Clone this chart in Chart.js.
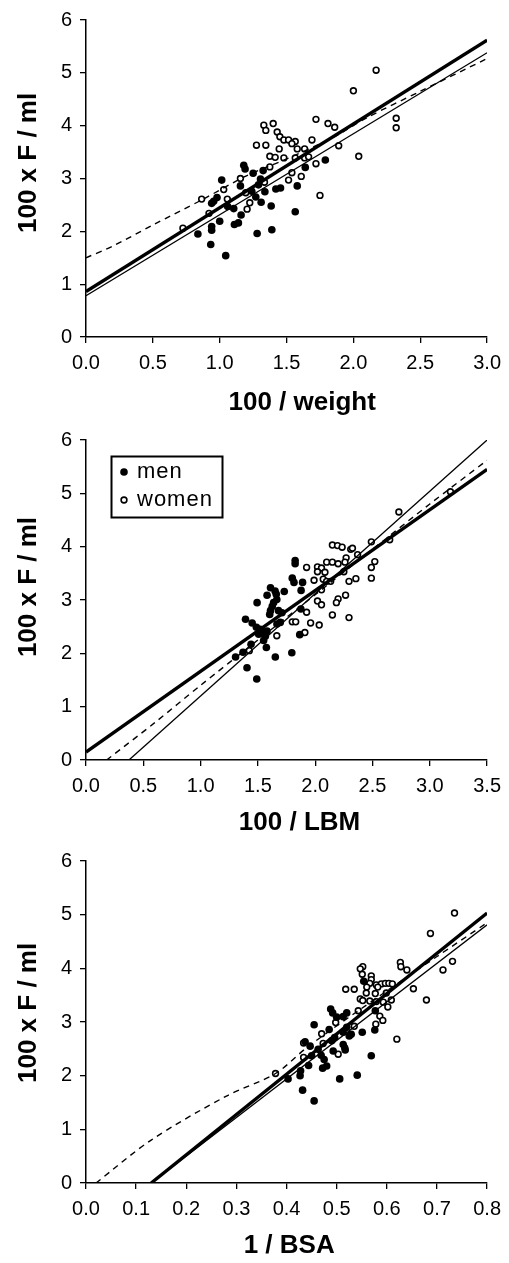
<!DOCTYPE html>
<html>
<head>
<meta charset="utf-8">
<script src="https://cdn.jsdelivr.net/npm/chart.js@4.4.0/dist/chart.umd.min.js"></script>
<style>
  html, body { margin: 0; padding: 0; background: #fff; }
  canvas { display: block; }
</style>
</head>
<body>
<canvas id="chartWeight" width="509" height="420"></canvas>
<canvas id="chartLbm" width="509" height="420"></canvas>
<canvas id="chartBsa" width="509" height="423"></canvas>
<script>
// y values are 100 x F / ml, x values as on each axis
var menWeight = [[1.64,3.21],[1.79,3.35],[1.58,2.86],[1.565,2.37],[1.455,2.82],[1.42,2.80],[1.385,2.48],[1.39,2.03],
  [1.28,1.96],[1.338,2.75],[1.325,3.15],[1.25,3.10],[1.18,3.25],[1.19,3.18],[1.31,2.55],[1.27,2.65],[1.29,2.88],
  [1.305,2.99],[1.015,2.97],[1.155,2.86],[0.98,2.64],[0.955,2.57],[0.94,2.53],[1.105,2.43],[1.16,2.31],[1.14,2.16],
  [1.11,2.13],[1.0,2.19],[0.94,2.09],[0.94,2.02],[0.837,1.95],[0.933,1.75],[1.045,1.54],[1.06,2.47],[1.24,2.76]];
var womenWeight = [[2.17,5.05],[2.0,4.66],[2.32,4.14],[2.32,3.96],[2.04,3.42],[1.72,4.12],[1.81,4.04],[1.86,3.97],
  [1.89,3.62],[1.33,4.01],[1.40,4.04],[1.345,3.91],[1.43,3.88],[1.45,3.79],[1.48,3.73],[1.515,3.73],[1.565,3.70],
  [1.54,3.66],[1.275,3.63],[1.345,3.63],[1.445,3.56],[1.58,3.56],[1.635,3.56],[1.69,3.73],[1.375,3.42],[1.415,3.40],
  [1.48,3.39],[1.565,3.39],[1.635,3.39],[1.665,3.41],[1.72,3.28],[1.375,3.22],[1.61,3.04],[1.54,3.11],[1.515,2.97],
  [1.75,2.68],[1.335,2.93],[1.155,3.0],[1.195,2.73],[1.03,2.79],[1.057,2.61],[0.865,2.61],[0.92,2.34],[0.725,2.06],
  [1.205,2.42],[1.225,2.54]];
var menLbm = [[1.825,3.74],[1.825,3.68],[1.80,3.41],[1.815,3.33],[1.89,3.33],[1.877,3.18],[1.73,3.16],[1.61,3.23],
  [1.58,3.09],[1.65,3.17],[1.66,3.11],[1.665,3.01],[1.637,2.95],[1.61,2.80],[1.603,2.73],[1.68,2.80],[1.71,2.76],
  [1.493,2.95],[1.392,2.64],[1.45,2.57],[1.487,2.49],[1.52,2.45],[1.58,2.42],[1.666,2.55],[1.695,2.58],[1.507,2.36],
  [1.565,2.32],[1.55,2.24],[1.44,2.17],[1.37,2.02],[1.305,1.93],[1.574,2.11],[1.652,1.93],[1.796,2.01],[1.405,1.73],
  [1.49,1.52],[1.865,2.35],[1.875,2.83],[1.625,2.88],[1.55,2.40]];
var womenLbm = [[3.18,5.03],[2.73,4.65],[2.65,4.13],[2.49,4.09],[2.52,3.72],[2.49,3.61],[2.49,3.41],[2.37,3.85],
  [2.15,4.03],[2.195,4.02],[2.235,3.99],[2.31,3.95],[2.325,3.97],[2.27,3.79],[2.26,3.71],[2.10,3.71],[2.15,3.71],
  [2.20,3.68],[2.02,3.62],[2.055,3.60],[1.925,3.61],[2.02,3.53],[2.085,3.52],[2.25,3.53],[1.99,3.37],[2.07,3.39],
  [2.10,3.35],[2.135,3.35],[2.295,3.35],[2.355,3.40],[2.055,3.19],[2.02,2.98],[2.055,2.91],[2.20,3.02],[2.185,2.95],
  [2.265,3.09],[2.15,2.72],[2.295,2.67],[1.925,2.77],[1.96,2.57],[2.035,2.53],[1.80,2.59],[1.83,2.59],[1.91,2.39],
  [1.665,2.33],[1.425,2.05]];
var menBsa = [[0.455,1.53],[0.432,1.73],[0.506,1.94],[0.541,2.01],[0.569,2.37],[0.576,2.85],[0.551,2.81],[0.488,3.24],
  [0.492,3.17],[0.50,3.09],[0.52,3.17],[0.513,3.10],[0.554,3.76],[0.577,3.21],[0.455,2.95],[0.485,2.86],[0.513,2.81],
  [0.529,2.77],[0.496,2.71],[0.49,2.65],[0.513,2.58],[0.517,2.48],[0.437,2.63],[0.447,2.55],[0.463,2.49],[0.493,2.46],
  [0.469,2.38],[0.475,2.30],[0.48,2.18],[0.472,2.14],[0.444,2.19],[0.428,2.09],[0.427,2.0],[0.403,1.94],[0.45,2.37],
  [0.525,2.74],[0.52,2.9]];
var womenBsa = [[0.735,5.03],[0.687,4.65],[0.731,4.13],[0.712,3.97],[0.679,3.41],[0.653,3.62],[0.627,4.11],[0.628,4.03],
  [0.64,3.97],[0.62,2.68],[0.552,4.03],[0.547,3.99],[0.551,3.89],[0.569,3.86],[0.569,3.79],[0.566,3.72],[0.56,3.65],
  [0.579,3.69],[0.589,3.71],[0.597,3.72],[0.604,3.72],[0.611,3.71],[0.518,3.61],[0.535,3.61],[0.582,3.65],[0.577,3.53],
  [0.559,3.54],[0.547,3.43],[0.552,3.40],[0.566,3.39],[0.579,3.38],[0.593,3.37],[0.599,3.54],[0.609,3.41],[0.602,3.28],
  [0.543,3.21],[0.586,3.11],[0.592,3.03],[0.578,2.96],[0.535,2.92],[0.47,2.78],[0.434,2.61],[0.473,2.60],[0.503,2.40],
  [0.516,2.52],[0.434,2.34],[0.378,2.04],[0.498,2.99]];

// fitted lines: thick, thin and dashed curve
var thickWeight = [[0,0.86],[3.0,5.62]];
var thinWeight = [[0,0.78],[3.0,5.38]];
var dashWeight = [[0,1.5],[0.2,1.72],[0.5,2.12],[0.87,2.6],[1.2,3.05],[1.5,3.37],[1.85,3.78],[2.1,4.15],[2.5,4.65],[3.0,5.27]];
var thickLbm = [[0,0.15],[3.5,5.45]];
var thinLbm = [[0.375,0],[3.5,6.0]];
var dashLbm = [[0.18,0],[0.6,0.7],[1.0,1.4],[1.5,2.25],[2.0,3.1],[2.5,3.95],[3.0,4.8],[3.5,5.62]];
var thickBsa = [[0.13,0],[0.8,5.03]];
var thinBsa = [[0.13,0],[0.8,4.81]];
var dashBsa = [[0.02,0],[0.13,0.8],[0.28,1.62],[0.378,2.04],[0.444,2.55],[0.6,3.58],[0.7,4.22],[0.8,4.85]];

var legendLabels = ['men', 'women'];
var yTitle = '100 x F / ml';
var FONT = '"Liberation Sans", Arial, sans-serif';

function pts(arr) {
  return arr.map(function (p) { return { x: p[0], y: p[1] }; });
}

var boxLegend = {
  id: 'boxLegend',
  afterDraw: function (chart, args, opts) {
    if (!opts.show) return;
    var ctx = chart.ctx;
    ctx.save();
    ctx.strokeStyle = '#000';
    ctx.lineWidth = 2;
    ctx.strokeRect(111.5, 36.5, 111, 61);
    ctx.fillStyle = '#000';
    ctx.beginPath();
    ctx.arc(124, 52, 3.8, 0, Math.PI * 2);
    ctx.fill();
    ctx.fillStyle = '#fff';
    ctx.lineWidth = 1.6;
    ctx.beginPath();
    ctx.arc(124, 80, 2.9, 0, Math.PI * 2);
    ctx.fill();
    ctx.stroke();
    ctx.fillStyle = '#000';
    ctx.font = '22px ' + FONT;
    ctx.textBaseline = 'middle';
    ctx.letterSpacing = '1px';
    ctx.fillText(legendLabels[0], 137, 52);
    ctx.fillText(legendLabels[1], 137, 80);
    ctx.restore();
  }
};

function makeChart(id, c) {
  new Chart(document.getElementById(id), {
    type: 'scatter',
    data: {
      datasets: [
        { label: 'thick', data: pts(c.thick), showLine: true, pointRadius: 0, borderColor: '#000', borderWidth: 3.4 },
        { label: 'thin', data: pts(c.thin), showLine: true, pointRadius: 0, borderColor: '#000', borderWidth: 1.3 },
        { label: 'dash', data: pts(c.dash), showLine: true, pointRadius: 0, borderColor: '#000', borderWidth: 1.4,
          borderDash: [6, 5], tension: 0.3 },
        { label: legendLabels[0], data: pts(c.men), pointRadius: 3.8, backgroundColor: '#000', borderWidth: 0 },
        { label: legendLabels[1], data: pts(c.women), pointRadius: 2.9, backgroundColor: '#fff',
          borderColor: '#000', borderWidth: 1.6 }
      ]
    },
    options: {
      responsive: false,
      animation: false,
      layout: { padding: { top: c.top, right: 19, left: 0, bottom: 0 } },
      plugins: { legend: { display: false }, tooltip: { enabled: false }, boxLegend: { show: c.legend } },
      scales: {
        x: {
          type: 'linear', min: 0, max: c.xMax,
          ticks: { stepSize: c.xStep, color: '#000', font: { family: FONT, size: 20 }, padding: 8,
            maxRotation: 0, autoSkip: false, callback: function (v) { return v.toFixed(1); } },
          grid: { drawOnChartArea: false, drawTicks: true, tickLength: 6, color: '#000', lineWidth: 1.3 },
          border: { color: '#000', width: 1.5 },
          // leading spaces nudge the centred title to where the original sits
          title: { display: true, text: c.xPad + c.xTitle, color: '#000', font: { family: FONT, size: 26, weight: 'bold' },
            padding: { top: 0, bottom: 2 } },
          afterFit: function (s) { s.height = c.xHeight; }
        },
        y: {
          type: 'linear', min: 0, max: 6,
          ticks: { stepSize: 1, color: '#000', font: { family: FONT, size: 20 }, padding: 8 },
          grid: { drawOnChartArea: false, drawTicks: true, tickLength: 6, color: '#000', lineWidth: 1.3 },
          border: { color: '#000', width: 1.5 },
          title: { display: true, text: c.yPad + yTitle, color: '#000', font: { family: FONT, size: 26, weight: 'bold' },
            padding: { top: 13, bottom: 0 } },
          afterFit: function (s) { s.width = 86; }
        }
      }
    },
    plugins: [boxLegend]
  });
}

makeChart('chartWeight', { men: menWeight, women: womenWeight, thick: thickWeight, thin: thinWeight, dash: dashWeight,
  xMax: 3.0, xStep: 0.5, xTitle: '100 / weight', xPad: '\u2003\u2009', yPad: '\u2003\u2009', top: 15, xHeight: 83, legend: false });
makeChart('chartLbm', { men: menLbm, women: womenLbm, thick: thickLbm, thin: thinLbm, dash: dashLbm,
  xMax: 3.5, xStep: 0.5, xTitle: '100 / LBM', xPad: '\u2003', yPad: '\u2003', top: 18, xHeight: 80, legend: true });
makeChart('chartBsa', { men: menBsa, women: womenBsa, thick: thickBsa, thin: thinBsa, dash: dashBsa,
  xMax: 0.8, xStep: 0.1, xTitle: '1 / BSA', xPad: '\u2009', yPad: '\u2002\u2009', top: 21, xHeight: 80, legend: false });
</script>
</body>
</html>
